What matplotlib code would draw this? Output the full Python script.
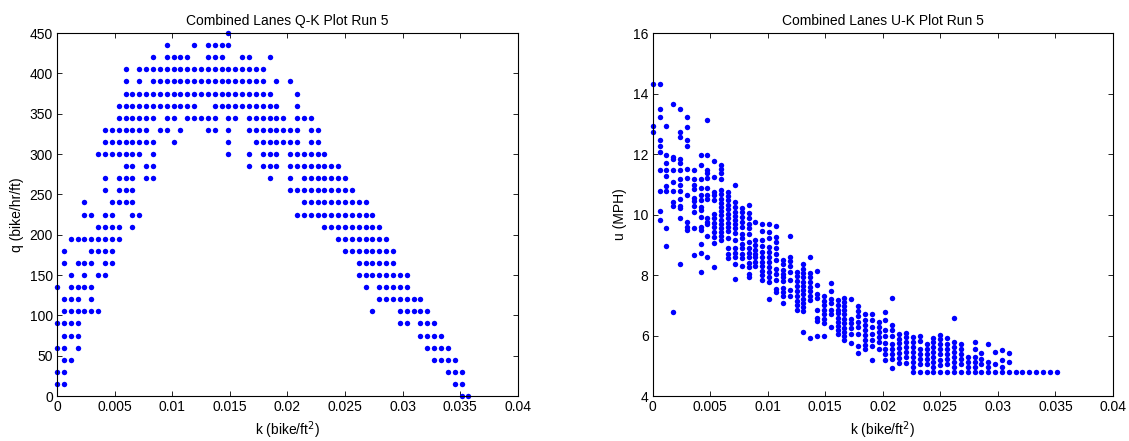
import matplotlib
matplotlib.use("Agg")
import matplotlib.pyplot as plt


# density bins (bike/ft^2) used by both panels, one per column of dots
k_bins = [
    0.0, 0.0006, 0.00119, 0.00179, 0.00238, 0.00298, 0.00357, 0.00417, 0.00476, 0.00536,
    0.00595, 0.00655, 0.00714, 0.00774, 0.00833, 0.00893, 0.00952, 0.01012, 0.01071, 0.01131,
    0.0119, 0.0125, 0.01309, 0.01369, 0.01428, 0.01488, 0.01547, 0.01607, 0.01666, 0.01726,
    0.01785, 0.01845, 0.01904, 0.01964, 0.02023, 0.02083, 0.02142, 0.02202, 0.02261, 0.02321,
    0.0238, 0.0244, 0.02499, 0.02559, 0.02618, 0.02678, 0.02737, 0.02797, 0.02856, 0.02916,
    0.02975, 0.03035, 0.03094, 0.03154, 0.03213, 0.03273, 0.03332, 0.03392, 0.03451, 0.03511,
    0.0357,
]

# flow levels (bike/hr/ft) and which k bins carry a dot at that level
q_levels = [450, 435, 420, 405, 390, 375, 360, 345, 330, 315, 300, 285, 270, 255, 240, 225,
            210, 195, 180, 165, 150, 135, 120, 105, 90, 75, 60, 45, 30, 15, 0]
qk_columns = [
    "25",
    "16,20,22-25",
    "14,16-19,22-24,27,28,31",
    "10,12-30",
    "10,12,14-30,32,34",
    "10-31,35",
    "9-20,23-32,35",
    "9-14,16,17,19-23,25,26,28-33,35-37",
    "7-13,15,16,18,22,23,25,28-35,37,38",
    "7-14,17,25,29-35,37,38",
    "6-12,14,25,28,30-32,34-39",
    "10,11,13,14,28,30-32,34-41",
    "7,9-11,13,14,31,34,36-42",
    "7,9-11,34-43",
    "4,8-11,36-45",
    "4,5,7,8,11,12,35-46",
    "6-9,11,39-47",
    "2-9,41-48",
    "1,5-8,42-49",
    "1,3-5,7,8,44-49",
    "2,4,6,7,44-51",
    "0,2-5,45,47-51",
    "1-3,5,47-53",
    "1-6,46,50-54",
    "0-3,50,51,53-55",
    "1-3,53-56",
    "0,1,3,54-57",
    "1,2,55-58",
    "0,1,57-59",
    "0,1,58,59",
    "59,60",
]

# speeds (MPH) seen in each k bin, bin 0 first
uk_speeds = [
    [14.33, 12.93, 12.73],
    [14.33, 13.49, 13.21, 12.46, 12.27, 12.07, 11.47, 10.77, 10.12, 9.81],
    [12.93, 11.96, 11.71, 11.47, 11.29, 10.94, 10.77, 9.57, 8.95],
    [13.64, 11.91, 11.84, 11.47, 11.07, 10.77, 10.42, 10.28, 6.77],
    [13.49, 12.73, 12.56, 11.84, 11.69, 11.47, 11.16, 10.98, 10.77, 10.50, 10.28, 10.20, 9.89, 8.38],
    [13.21, 12.90, 12.48, 12.27, 11.52, 11.22, 10.63, 9.76, 9.59, 9.50],
    [11.47, 11.16, 10.98, 10.86, 10.55, 10.45, 10.28, 10.09, 9.57, 8.66],
    [11.98, 11.63, 11.19, 10.89, 10.64, 10.47, 10.25, 10.14, 9.92, 9.59, 9.50, 9.02, 8.73, 8.10],
    [13.12, 11.98, 11.47, 11.36, 11.22, 10.89, 10.64, 10.53, 9.87, 9.76, 9.68, 9.29, 8.59],
    [11.77, 11.25, 10.75, 10.64, 10.47, 10.01, 9.87, 9.72, 9.59, 9.43, 9.26, 9.06, 8.25],
    [11.63, 11.49, 11.36, 11.16, 10.80, 10.67, 10.53, 10.39, 10.25, 10.12, 9.98, 9.83, 9.70,
     9.57, 9.43, 9.28, 9.15],
    [10.75, 10.61, 10.47, 10.31, 10.17, 10.01, 9.87, 9.72, 9.59, 9.46, 9.21, 8.88, 8.71, 8.55],
    [10.97, 10.42, 10.25, 10.09, 9.94, 9.81, 9.68, 9.54, 9.39, 9.15, 8.88, 8.73, 8.58, 8.38, 7.88],
    [10.23, 10.09, 9.92, 9.76, 9.59, 9.37, 9.21, 9.04, 8.88, 8.71, 8.55, 8.29],
    [10.31, 10.06, 9.90, 9.68, 9.54, 9.37, 9.10, 8.88, 8.73, 8.58, 8.40, 8.25, 8.05, 7.94],
    [9.74, 9.15, 8.99, 8.84, 8.71, 8.58, 8.44, 8.29],
    [9.68, 9.46, 9.15, 8.95, 8.77, 8.60, 8.44, 8.29, 8.14, 7.99, 7.85],
    [9.68, 9.43, 9.21, 8.93, 8.77, 8.60, 8.44, 8.27, 8.10, 7.94, 7.77, 7.22],
    [9.63, 9.26, 9.10, 8.88, 8.71, 8.49, 8.21, 8.05, 7.83, 7.55, 7.44],
    [8.49, 8.38, 8.16, 8.05, 7.92, 7.81, 7.57, 7.44, 7.30, 7.08],
    [9.29, 8.60, 8.47, 8.29, 8.10, 7.83, 7.52, 7.30],
    [8.10, 7.96, 7.81, 7.63, 7.48, 7.30, 7.14, 7.00, 6.86],
    [8.36, 8.21, 8.07, 7.92, 7.77, 7.63, 7.50, 7.37, 7.22, 7.08, 6.95, 6.81, 6.11],
    [8.60, 8.07, 7.92, 7.77, 7.61, 7.48, 7.30, 7.19, 5.93],
    [8.14, 7.66, 7.37, 7.25, 6.86, 6.59, 6.48, 5.98],
    [7.30, 7.14, 7.00, 6.86, 6.70, 6.56, 6.42, 5.98],
    [7.75, 7.48, 7.22, 7.06, 6.86, 6.70, 6.29],
    [7.17, 7.00, 6.86, 6.73, 6.59, 6.45, 6.31, 6.18, 6.04],
    [7.25, 7.11, 6.97, 6.84, 6.70, 6.56, 6.42, 6.26, 6.12, 5.98, 5.84],
    [7.22, 6.56, 6.42, 6.26, 6.04, 5.76],
    [6.97, 6.81, 6.64, 6.45, 6.29, 6.06, 5.65, 5.43],
    [6.70, 6.50, 6.34, 6.17, 6.01, 5.84, 5.68, 5.57],
    [6.70, 6.50, 6.29, 6.06, 5.84, 5.65, 5.18],
    [6.45, 6.29, 6.12, 5.95, 5.79, 5.54],
    [6.78, 6.50, 6.17, 5.98, 5.76, 5.57, 5.40, 5.18],
    [7.25, 6.34, 6.17, 5.98, 5.73, 5.57, 5.40, 5.24, 4.91],
    [6.05, 5.90, 5.74, 5.58, 5.42, 5.26, 5.10],
    [6.10, 5.95, 5.80, 5.62, 5.45, 5.28, 5.10],
    [5.96, 5.79, 5.62, 5.46, 5.29, 5.13, 4.96, 4.8],
    [5.98, 5.82, 5.57, 5.40, 5.24, 5.07, 4.8],
    [5.73, 5.57, 5.40, 5.24, 5.07, 4.8],
    [5.92, 5.79, 5.62, 5.46, 5.29, 5.13, 4.96, 4.8],
    [6.01, 5.87, 5.71, 5.54, 5.38, 5.20, 5.02, 4.8],
    [5.93, 5.73, 5.57, 5.40, 5.24, 5.07, 4.8],
    [6.59, 5.79, 5.62, 5.46, 5.29, 5.13, 4.96, 4.8],
    [5.73, 5.57, 5.40, 5.24, 5.07, 4.8],
    [5.29, 5.13, 4.96, 4.8],
    [5.79, 5.57, 5.29, 5.13, 4.96, 4.8],
    [5.43, 5.24, 5.07, 4.8],
    [5.73, 5.13, 4.96, 4.8],
    [5.46, 5.07, 4.8],
    [5.53, 5.20, 4.96, 4.8],
    [5.43, 5.13, 4.8],
    [4.8], [4.8], [4.8], [4.8], [4.8], [4.8], [4.8],
]

k_ticks = [0, 0.005, 0.01, 0.015, 0.02, 0.025, 0.03, 0.035, 0.04]
k_tick_labels = ["0", "0.005", "0.01", "0.015", "0.02", "0.025", "0.03", "0.035", "0.04"]
q_ticks = [0, 50, 100, 150, 200, 250, 300, 350, 400, 450]
u_ticks = [4, 6, 8, 10, 12, 14, 16]

DOT = dict(linestyle="none", marker="o", markersize=3.9, color="#0000FF",
           markeredgewidth=0, clip_on=False)


def expand(spec):
    cols = []
    for part in spec.split(","):
        if "-" in part:
            a, b = part.split("-")
            cols.extend(range(int(a), int(b) + 1))
        else:
            cols.append(int(part))
    return cols


def style_axis(ax, yticks, ylim):
    ax.set_xlim(0, 0.04)
    ax.set_ylim(*ylim)
    ax.set_xticks(k_ticks)
    ax.set_xticklabels(k_tick_labels)
    ax.set_yticks(yticks)
    ax.set_yticklabels([str(t) for t in yticks])
    ax.tick_params(direction="in", top=True, right=True, length=3.5, width=0.6,
                   labelsize=10, pad=3)
    for spine in ax.spines.values():
        spine.set_linewidth(0.8)
    ax.set_xlabel("k (bike/ft$^2$)", fontsize=10)


def main():
    plt.rcParams["font.family"] = ["Liberation Sans", "DejaVu Sans"]
    fig = plt.figure(figsize=(11.29, 4.41), dpi=100)

    ax_q = fig.add_axes([0.0505, 0.102, 0.4083, 0.823])
    ax_u = fig.add_axes([0.5781, 0.102, 0.4077, 0.823])

    qk_k = []
    qk_q = []
    for q, spec in zip(q_levels, qk_columns):
        for col in expand(spec):
            qk_k.append(k_bins[col])
            qk_q.append(q)
    ax_q.plot(qk_k, qk_q, **DOT)

    uk_k = []
    uk_u = []
    for col, speeds in enumerate(uk_speeds):
        for u in speeds:
            uk_k.append(k_bins[col])
            uk_u.append(u)
    ax_u.plot(uk_k, uk_u, **DOT)

    style_axis(ax_q, q_ticks, (0, 450))
    ax_q.set_ylabel("q (bike/hr/ft)", fontsize=10)
    ax_q.set_title("Combined Lanes Q-K Plot Run 5", fontsize=10)

    style_axis(ax_u, u_ticks, (4, 16))
    ax_u.set_ylabel("u (MPH)", fontsize=10)
    ax_u.set_title("Combined Lanes U-K Plot Run 5", fontsize=10)

    fig.savefig("out.png", dpi=100)
    plt.close(fig)


if __name__ == "__main__":
    main()
